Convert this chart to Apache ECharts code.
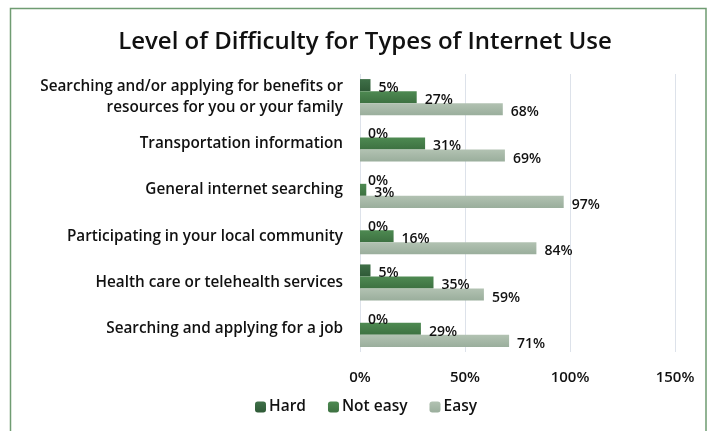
<!DOCTYPE html>
<html><head><meta charset="utf-8">
<script src="https://cdn.jsdelivr.net/npm/echarts@6/dist/echarts.min.js"></script>
<style>html,body{margin:0;padding:0;background:#fff}#c{width:710px;height:431px}</style>
</head><body><div id="c"></div>
<script>
const categories = [
  "Searching and/or applying for benefits or\nresources for you or your family",
  "Transportation information",
  "General internet searching",
  "Participating in your local community",
  "Health care or telehealth services",
  "Searching and applying for a job"
];
const hard = [5, 0, 0, 0, 5, 0];
const notEasy = [27, 31, 3, 16, 35, 29];
const easy = [68, 69, 97, 84, 59, 71];
const xTicks = [0, 50, 100, 150];

const font = '"Open Sans", "Noto Sans", sans-serif';
function grad(top, bottom) {
  return new echarts.graphic.LinearGradient(0, 0, 0, 1, [{offset: 0, color: top}, {offset: 1, color: bottom}]);
}
const lbl = {show: true, position: 'right', distance: 8, offset: [0, 3], formatter: p => p.value + '%',
  color: '#111', fontFamily: font, fontSize: 14, fontWeight: 600};
const chart = echarts.init(document.getElementById('c'), null, {renderer: 'canvas'});
chart.setOption({
  animation: false,
  backgroundColor: '#fff',
  graphic: [{type: 'rect', shape: {x: 10.5, y: 8.5, width: 695.5, height: 440}, style: {fill: 'none', stroke: '#6f9c72', lineWidth: 1.5}}],
  title: {text: 'Level of Difficulty for Types of Internet Use', left: 360, textAlign: 'center', top: 25,
    textStyle: {fontFamily: font, fontSize: 24, fontWeight: 600, color: '#111'}},
  legend: {bottom: 11, left: 250, itemWidth: 11, itemHeight: 11, itemGap: 22,
    textStyle: {fontFamily: font, fontSize: 15.5, fontWeight: 600, color: '#111', padding: [0, 0, 0, -2]},
    data: ['Hard', 'Not easy', 'Easy']},
  grid: {left: 360, right: 35, top: 74, bottom: 79},
  xAxis: {type: 'value', min: 0, max: 150, interval: 50,
    axisLabel: {formatter: v => xTicks.includes(v) ? v + '%' : '', fontFamily: font, fontSize: 15, fontWeight: 600, color: '#111', margin: 18},
    splitLine: {lineStyle: {color: '#dde2ea'}}, axisLine: {show: false}, axisTick: {show: false}},
  yAxis: {type: 'category', data: categories, inverse: true,
    axisLabel: {fontFamily: font, fontSize: 15.3, fontWeight: 600, color: '#111', margin: 17, align: 'right', lineHeight: 21},
    axisLine: {show: false}, axisTick: {show: false}},
  series: [
    {name: 'Hard', type: 'bar', data: hard, barGap: '0%', barCategoryGap: '22%', itemStyle: {color: grad('#3f7048', '#2f5a37')}, label: lbl},
    {name: 'Not easy', type: 'bar', data: notEasy, itemStyle: {color: grad('#4e8a52', '#3d7141')}, label: lbl},
    {name: 'Easy', type: 'bar', data: easy, itemStyle: {color: grad('#b2c2b2', '#9aae9c')}, label: lbl}
  ]
});
</script></body></html>
